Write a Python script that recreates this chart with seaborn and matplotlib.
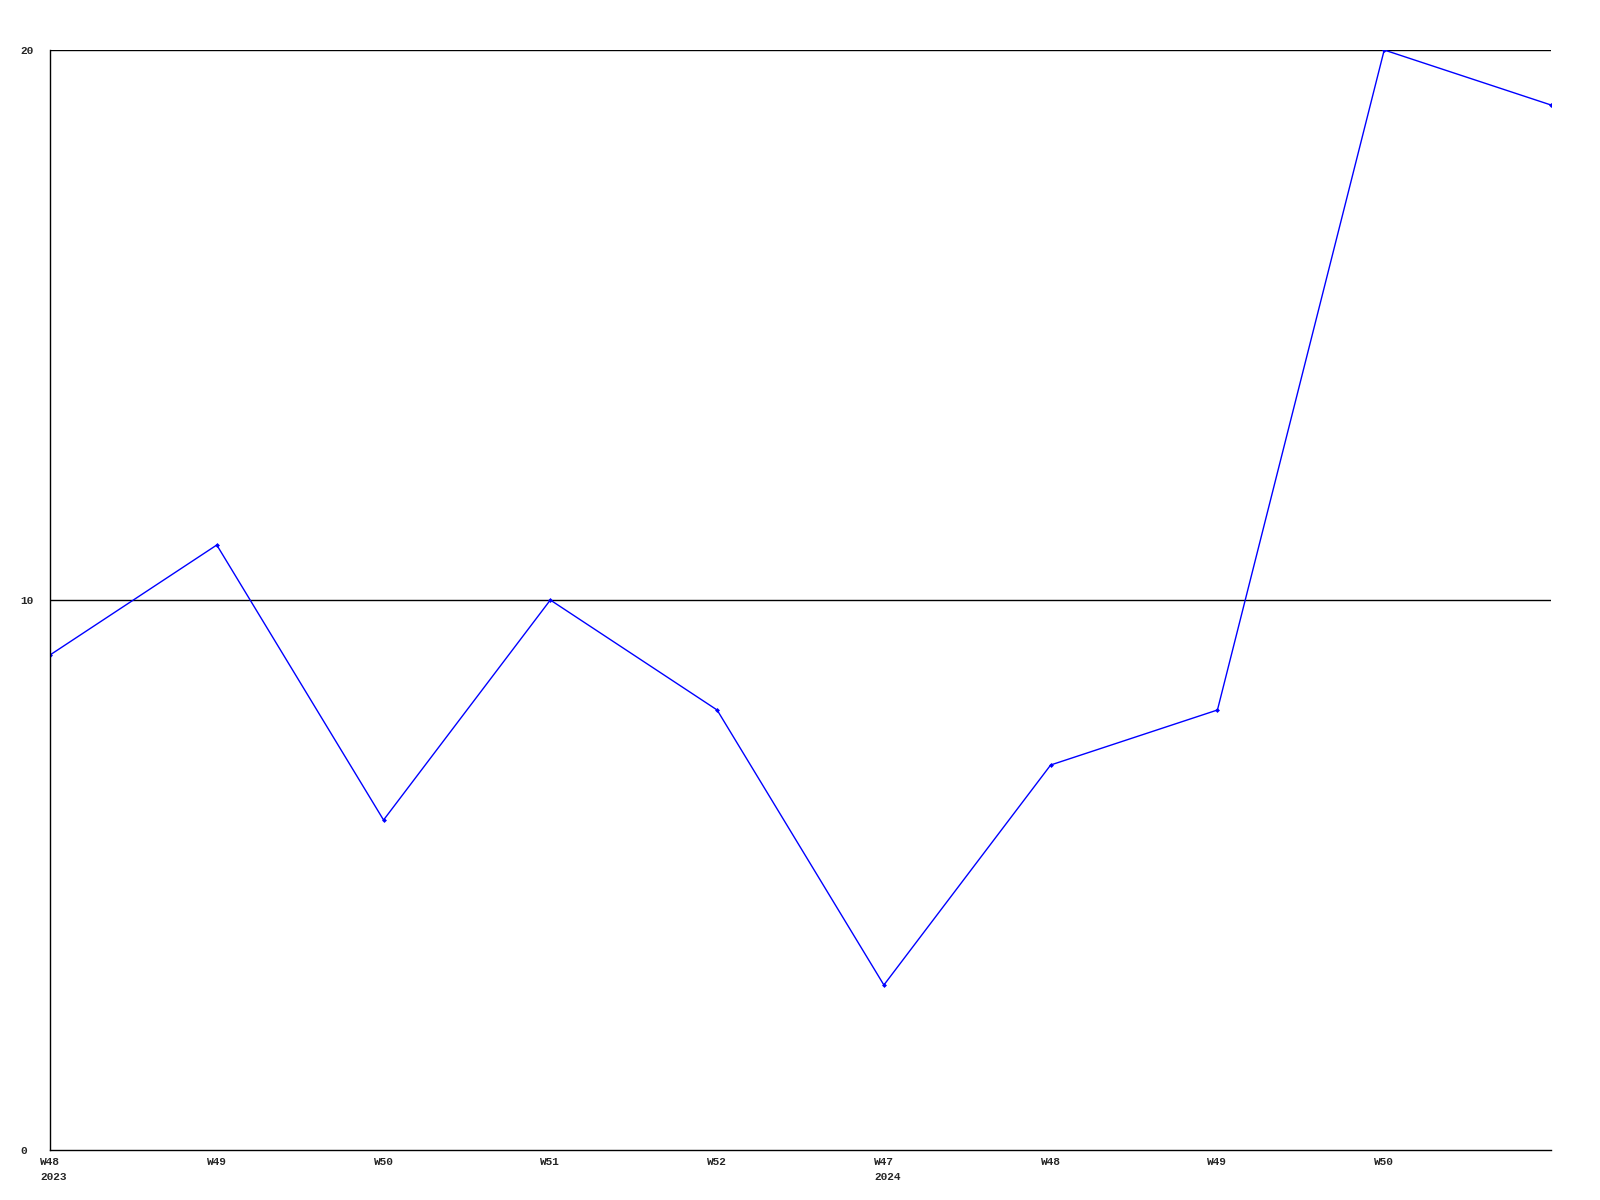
import matplotlib
matplotlib.use("Agg")
import matplotlib.pyplot as plt
import matplotlib.transforms as mtransforms
import seaborn as sns
import pandas as pd

weeks = ["W48\n2023", "W49", "W50", "W51", "W52", "W47\n2024", "W48", "W49", "W50", ""]
values = [9, 11, 6, 10, 8, 3, 7, 8, 20, 19]
y_ticks = [0, 10, 20]

df = pd.DataFrame({"x": list(range(len(values))), "y": values})

sns.set_theme(style="white")
plt.rcParams['font.family'] = ['Liberation Mono', 'DejaVu Sans Mono']

fig = plt.figure(figsize=(16, 12), dpi=100)
ax = fig.add_axes([50/1600, 1 - 1150/1200, 1501/1600, 1100/1200])

sns.lineplot(data=df, x="x", y="y", ax=ax, color="#0000ff", linewidth=1,
             marker="D", markersize=2.5, markeredgewidth=0, markerfacecolor="#0000ff")

ax.set_xlim(0, len(values) - 1)
ax.set_ylim(0, 20)
ax.set_yticks(y_ticks)
ax.set_yticklabels([str(v) for v in y_ticks], fontsize=8, fontweight="bold")
for v in y_ticks[1:]:
    ax.axhline(v, color="black", linewidth=1, zorder=0)

ax.set_xticks(list(range(len(weeks) - 1)))
ax.set_xticklabels(weeks[:-1], fontsize=8, fontweight="bold", ha="left", va="top",
                   linespacing=1.6)
ax.tick_params(axis="x", length=0, pad=5)
ax.tick_params(axis="y", length=0, pad=21.6)
offset = mtransforms.ScaledTranslation(-10/100, 0, fig.dpi_scale_trans)
for lbl in ax.get_xticklabels():
    lbl.set_transform(lbl.get_transform() + offset)
for lbl in ax.get_yticklabels():
    lbl.set_horizontalalignment("left")

ax.set_xlabel("")
ax.set_ylabel("")
for s in ["top", "right"]:
    ax.spines[s].set_visible(False)
for s in ["left", "bottom"]:
    ax.spines[s].set_color("black")
    ax.spines[s].set_linewidth(1)
ax.grid(False)

fig.savefig("out.png", dpi=100, facecolor="white")
